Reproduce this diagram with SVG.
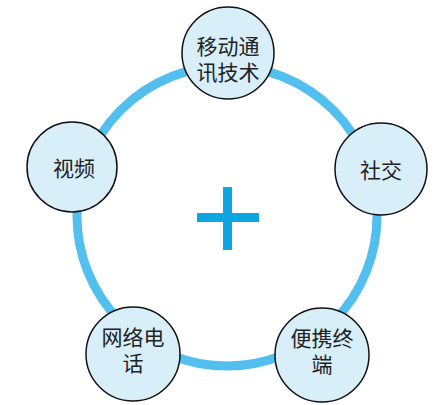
<svg xmlns="http://www.w3.org/2000/svg" width="447" height="405" viewBox="0 0 447 405">
<style>
.node{fill:#D8EFFA;stroke:#111;stroke-width:1.5}
.t{font-family:"Liberation Sans","Noto Sans CJK SC",sans-serif;font-size:21px;fill:#222;text-anchor:middle}
</style>
<rect width="447" height="405" fill="#fff"/>
<g id="connectors">
<circle cx="227" cy="216" r="150" fill="none" stroke="#52BFEE" stroke-width="9"/>
<path d="M223 187h9v63h-9z M197 213h62v9h-62z" fill="#0EA6E2"/>
</g>
<g id="n-top"><circle class="node" cx="228" cy="53" r="46"/><text class="t" x="228" y="54">移动通</text><text class="t" x="228" y="80">讯技术</text></g>
<g id="n-left"><circle class="node" cx="72" cy="167" r="45"/><text class="t" x="74" y="176">视频</text></g>
<g id="n-right"><circle class="node" cx="381" cy="169" r="46"/><text class="t" x="381" y="178">社交</text></g>
<g id="n-bl"><circle class="node" cx="133" cy="354" r="47"/><text class="t" x="133" y="345">网络电</text><text class="t" x="133" y="371">话</text></g>
<g id="n-br"><circle class="node" cx="322" cy="355" r="47"/><text class="t" x="322" y="346">便携终</text><text class="t" x="322" y="372">端</text></g>
</svg>
